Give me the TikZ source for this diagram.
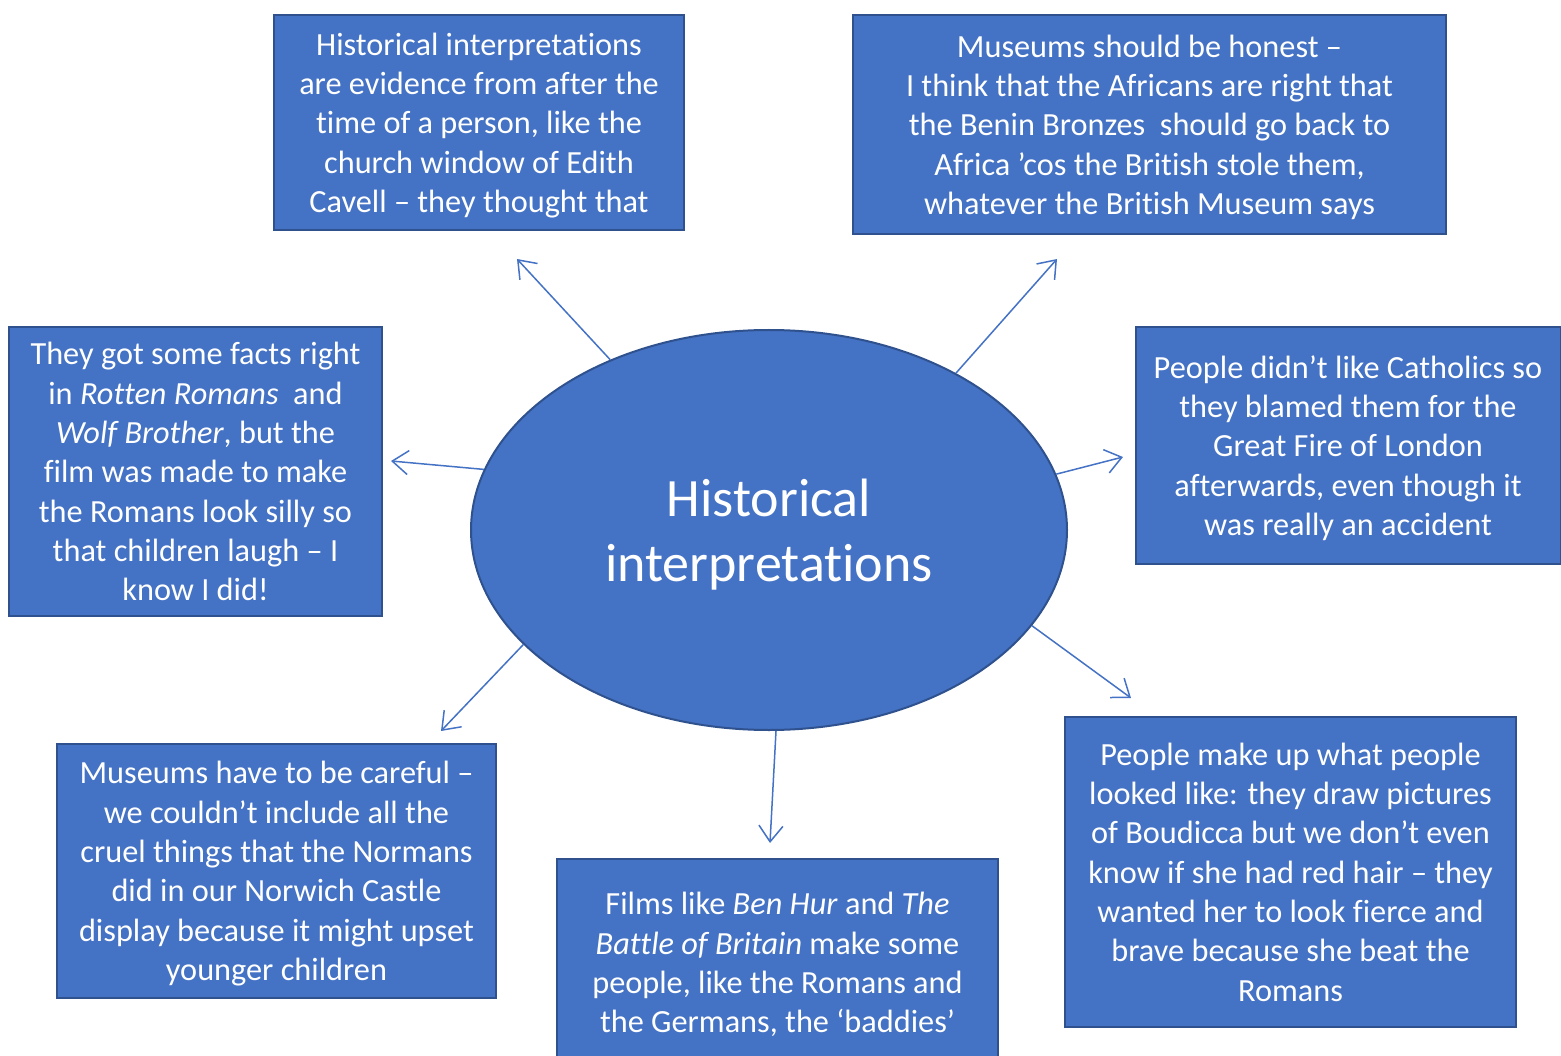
\documentclass[tikz,border=0pt]{standalone}
\usepackage{fontspec}
\setmainfont{Carlito}[Ligatures=NoCommon]
\usetikzlibrary{shapes,arrows.meta}

\definecolor{boxblue}{HTML}{4472C4}
\definecolor{edgeblue}{HTML}{2F528F}

\begin{document}
\begin{tikzpicture}
[x=1pt, y=-1pt,
 >={Straight Barb[length=16pt,width=24pt]},
 view/.style={shape=rectangle,draw=edgeblue,line width=2pt,fill=boxblue,
   text=white,align=center,inner sep=0pt,text depth=-5pt,
   font=\fontsize{32.3}{39.3}\selectfont},
 topic/.style={shape=ellipse,draw=edgeblue,line width=2pt,fill=boxblue,
   text=white,align=center,inner sep=0pt,minimum width=596pt,minimum height=400pt,
   text depth=-2pt,font=\fontsize{54}{65}\selectfont},
 link/.style={->,draw=boxblue,line width=1.5pt}]
\useasboundingbox (0,0) rectangle (1561,1056);
\node[topic] (hi) at (769,530) {Historical\\interpretations};
\node (v1) at (479,122.5) [view,minimum width=410pt,minimum height=215pt]
  {Historical interpretations\\are evidence from after the\\time of a person, like the\\church window of Edith\\Cavell -- they thought that};
\node (v2) at (1149.5,124.5) [view,minimum width=593pt,minimum height=219pt]
  {Museums should be honest --\\I think that the Africans are right that\\the Benin Bronzes\ \ should go back to\\Africa ’cos the British stole them,\\whatever the British Museum says};
\node (v3) at (195.5,471.5) [view,minimum width=373pt,minimum height=289pt]
  {They got some facts right\\in \textit{Rotten Romans}\ \ and\\\textit{Wolf Brother}, but the\\film was made to make\\the Romans look silly so\\that children laugh -- I\\know I did!};
\node (v4) at (1348,445.5) [view,minimum width=425pt,minimum height=237pt]
  {People didn’t like Catholics so\\they blamed them for the\\Great Fire of London\\afterwards, even though it\\was really an accident};
\node (v5) at (276.5,871) [view,minimum width=439pt,minimum height=254pt]
  {Museums have to be careful --\\we couldn’t include all the\\cruel things that the Normans\\did in our Norwich Castle\\display because it might upset\\younger children};
\node (v6) at (777.5,962.5) [view,minimum width=441pt,minimum height=207pt]
  {Films like \textit{Ben Hur} and \textit{The}\\\textit{Battle of Britain} make some\\people, like the Romans and\\the Germans, the ‘baddies’};
\node (v7) at (1290.5,872) [view,minimum width=451pt,minimum height=310pt]
  {People make up what people\\looked like: they draw pictures\\of Boudicca but we don’t even\\know if she had red hair -- they\\wanted her to look fierce and\\brave because she beat the\\Romans};
% free ends of the arrows
\coordinate (a1) at (517,259);
\coordinate (a2) at (1057,259);
\coordinate (a3) at (391,461);
\coordinate (a4) at (1123,457);
\coordinate (a5) at (441,731);
\coordinate (a6) at (770,843);
\coordinate (a7) at (1131,698);
\draw[link] (hi.133.6) -- (a1);
\draw[link] (hi.40.7) -- (a2);
\draw[link] (hi.168.5) -- (a3);
\draw[link] (hi.11) -- (a4);
\draw[link] (hi.205.2) -- (a5);
\draw[link] (hi.272) -- (a6);
\draw[link] (hi.340.8) -- (a7);
\end{tikzpicture}
\end{document}
